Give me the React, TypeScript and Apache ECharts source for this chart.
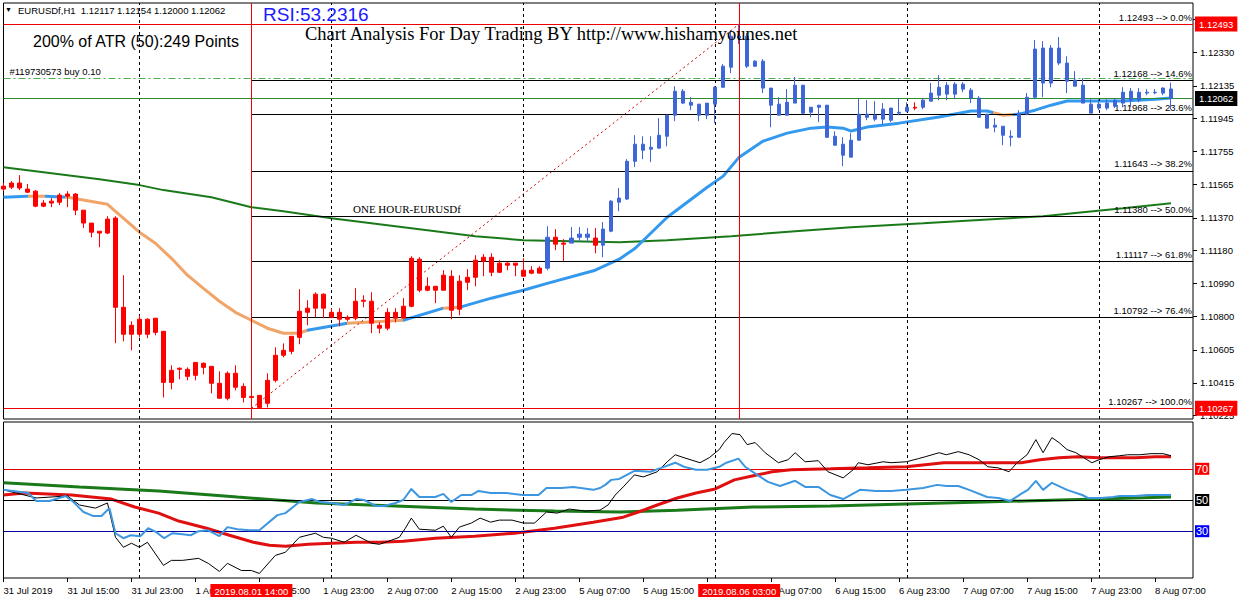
import React, { useEffect, useRef } from 'react';
import * as echarts from 'echarts';

// ---------- DATA ----------
// H1 candles, bar 0 = 31 Jul 2019 07:00 ; [open, high, low, close]
const candles: number[][] = [
  [1.11554, 1.11572, 1.11525, 1.11537], [1.11548, 1.11583, 1.11537, 1.11572], [1.11572, 1.11618, 1.11531, 1.11543],
  [1.11537, 1.11566, 1.11514, 1.11519], [1.11525, 1.11531, 1.11432, 1.11438], [1.11438, 1.11473, 1.11432, 1.11456],
  [1.11456, 1.11485, 1.11432, 1.11467], [1.11461, 1.11514, 1.11444, 1.11502], [1.11496, 1.11525, 1.11432, 1.11508],
  [1.11508, 1.11514, 1.11386, 1.11415], [1.11415, 1.11415, 1.11311, 1.11340], [1.11340, 1.11340, 1.11258, 1.11287],
  [1.11293, 1.11293, 1.11200, 1.11282], [1.11282, 1.11380, 1.11276, 1.11363], [1.11369, 1.11380, 1.10644, 1.10852],
  [1.10852, 1.11038, 1.10655, 1.10696], [1.10696, 1.10771, 1.10603, 1.10748], [1.10696, 1.10806, 1.10678, 1.10783],
  [1.10783, 1.10789, 1.10673, 1.10696], [1.10789, 1.10789, 1.10690, 1.10707], [1.10713, 1.10713, 1.10330, 1.10417],
  [1.10417, 1.10516, 1.10377, 1.10487], [1.10499, 1.10504, 1.10435, 1.10493], [1.10493, 1.10504, 1.10429, 1.10452],
  [1.10458, 1.10533, 1.10429, 1.10533], [1.10528, 1.10533, 1.10464, 1.10504], [1.10510, 1.10510, 1.10354, 1.10412],
  [1.10412, 1.10481, 1.10325, 1.10325], [1.10325, 1.10481, 1.10313, 1.10470], [1.10470, 1.10516, 1.10371, 1.10389],
  [1.10394, 1.10412, 1.10301, 1.10330], [1.10336, 1.10348, 1.10267, 1.10330], [1.10272, 1.10342, 1.10267, 1.10342],
  [1.10296, 1.10470, 1.10272, 1.10429], [1.10429, 1.10620, 1.10417, 1.10574], [1.10574, 1.10643, 1.10562, 1.10603],
  [1.10597, 1.10684, 1.10580, 1.10684], [1.10678, 1.10957, 1.10638, 1.10829], [1.10823, 1.10893, 1.10748, 1.10847],
  [1.10847, 1.10939, 1.10794, 1.10928], [1.10928, 1.10933, 1.10789, 1.10847], [1.10823, 1.10847, 1.10789, 1.10794],
  [1.10823, 1.10847, 1.10742, 1.10783], [1.10794, 1.10806, 1.10771, 1.10783], [1.10789, 1.10963, 1.10777, 1.10887],
  [1.10893, 1.10922, 1.10852, 1.10887], [1.10887, 1.10939, 1.10702, 1.10760], [1.10748, 1.10765, 1.10702, 1.10731],
  [1.10731, 1.10847, 1.10719, 1.10823], [1.10823, 1.10847, 1.10765, 1.10789], [1.10789, 1.10905, 1.10789, 1.10858],
  [1.10858, 1.11148, 1.10852, 1.11136], [1.11131, 1.11142, 1.10939, 1.10951], [1.10974, 1.11026, 1.10945, 1.10951],
  [1.10974, 1.10974, 1.10876, 1.10951], [1.10951, 1.11067, 1.10951, 1.11038], [1.11032, 1.11067, 1.10783, 1.10835],
  [1.10841, 1.11038, 1.10806, 1.11003], [1.10997, 1.11073, 1.10951, 1.11026], [1.11026, 1.11154, 1.10974, 1.11125],
  [1.11142, 1.11160, 1.11032, 1.11119], [1.11142, 1.11165, 1.11032, 1.11055], [1.11055, 1.11125, 1.11050, 1.11108],
  [1.11108, 1.11113, 1.11067, 1.11096], [1.11108, 1.11108, 1.11032, 1.11096], [1.11067, 1.11136, 1.11032, 1.11032],
  [1.11050, 1.11090, 1.11044, 1.11067], [1.11050, 1.11090, 1.11050, 1.11079], [1.11079, 1.11322, 1.11067, 1.11258],
  [1.11258, 1.11305, 1.11183, 1.11218], [1.11224, 1.11247, 1.11119, 1.11218], [1.11224, 1.11317, 1.11224, 1.11253],
  [1.11258, 1.11317, 1.11230, 1.11276], [1.11276, 1.11311, 1.11230, 1.11258], [1.11253, 1.11311, 1.11165, 1.11212],
  [1.11212, 1.11346, 1.11142, 1.11305], [1.11293, 1.11473, 1.11287, 1.11467], [1.11461, 1.11543, 1.11409, 1.11485],
  [1.11479, 1.11710, 1.11473, 1.11698], [1.11698, 1.11849, 1.11664, 1.11797], [1.11797, 1.11843, 1.11710, 1.11762],
  [1.11779, 1.11843, 1.11693, 1.11768], [1.11774, 1.11948, 1.11774, 1.11849], [1.11843, 1.11965, 1.11785, 1.11965],
  [1.11965, 1.12133, 1.11930, 1.12104], [1.12104, 1.12116, 1.12029, 1.12035], [1.12040, 1.12069, 1.11994, 1.12023],
  [1.12029, 1.12029, 1.11930, 1.11965], [1.11965, 1.12035, 1.11942, 1.12035], [1.12029, 1.12133, 1.11919, 1.12127],
  [1.12127, 1.12261, 1.12122, 1.12249], [1.12243, 1.12458, 1.12209, 1.12423], [1.12423, 1.12493, 1.12377, 1.12412],
  [1.12423, 1.12441, 1.12238, 1.12249], [1.12249, 1.12284, 1.12244, 1.12278], [1.12278, 1.12290, 1.12093, 1.12122],
  [1.12122, 1.12122, 1.11895, 1.12023], [1.12029, 1.12069, 1.11965, 1.11965], [1.11965, 1.12116, 1.11965, 1.12040],
  [1.12035, 1.12186, 1.12035, 1.12139], [1.12139, 1.12139, 1.11971, 1.11977], [1.12011, 1.12011, 1.11953, 1.11982],
  [1.12011, 1.12023, 1.11925, 1.12023], [1.12023, 1.12023, 1.11837, 1.11837], [1.11843, 1.11872, 1.11791, 1.11791],
  [1.11797, 1.11837, 1.11670, 1.11733], [1.11722, 1.11861, 1.11722, 1.11820], [1.11820, 1.12064, 1.11820, 1.11971],
  [1.11971, 1.12052, 1.11936, 1.11953], [1.11965, 1.12046, 1.11930, 1.11942], [1.11942, 1.12035, 1.11907, 1.12000],
  [1.11936, 1.12006, 1.11925, 1.12006], [1.11982, 1.12064, 1.11965, 1.11977], [1.11988, 1.12040, 1.11982, 1.12011],
  [1.12011, 1.12040, 1.11994, 1.12006], [1.12011, 1.12064, 1.12000, 1.12052], [1.12046, 1.12151, 1.12046, 1.12093],
  [1.12081, 1.12197, 1.12052, 1.12127], [1.12139, 1.12157, 1.12052, 1.12087], [1.12087, 1.12157, 1.12058, 1.12145],
  [1.12145, 1.12157, 1.12098, 1.12116], [1.12110, 1.12122, 1.12035, 1.12064], [1.12064, 1.12075, 1.11953, 1.11953],
  [1.11971, 1.11971, 1.11890, 1.11890], [1.11907, 1.11948, 1.11866, 1.11896], [1.11901, 1.11901, 1.11791, 1.11849],
  [1.11843, 1.11878, 1.11785, 1.11837], [1.11837, 1.11994, 1.11837, 1.11977], [1.11971, 1.12093, 1.11965, 1.12069],
  [1.12069, 1.12400, 1.12058, 1.12348], [1.12354, 1.12394, 1.12069, 1.12151], [1.12151, 1.12371, 1.12127, 1.12354],
  [1.12354, 1.12418, 1.12255, 1.12267], [1.12267, 1.12307, 1.12093, 1.12162], [1.12168, 1.12220, 1.12133, 1.12133],
  [1.12139, 1.12180, 1.12035, 1.12035], [1.12029, 1.12058, 1.11977, 1.11977], [1.12006, 1.12058, 1.11994, 1.12029],
  [1.12006, 1.12058, 1.11994, 1.12035], [1.12017, 1.12064, 1.12006, 1.12052], [1.12035, 1.12127, 1.12011, 1.12098],
  [1.12052, 1.12122, 1.12011, 1.12104], [1.12052, 1.12122, 1.12040, 1.12098], [1.12098, 1.12116, 1.12081, 1.12093],
  [1.12098, 1.12116, 1.12087, 1.12095], [1.12093, 1.12127, 1.12081, 1.12122], [1.12117, 1.12154, 1.12000, 1.12062],
];

// candle colour runs: r = red, b = blue
const candleColorRuns: Array<[string, number]> = [
  ['r', 68], ['b', 1], ['r', 2], ['b', 3], ['r', 1], ['b', 39], ['r', 1], ['b', 32],
];

// fast MA [bar, price] and colour segments (start bar)
const maFast: number[][] = [
  [0, 1.1149], [3, 1.11496], [5.25, 1.11496], [8, 1.1149], [13, 1.11449], [17, 1.11287], [19, 1.11223],
  [21, 1.11136], [23, 1.11038], [25, 1.10962], [27, 1.10887], [29, 1.10823], [31, 1.10777], [33, 1.10731],
  [35, 1.10702], [37, 1.10702], [38, 1.10719], [43, 1.1076], [50, 1.10777], [55, 1.10847], [57, 1.10852],
  [61, 1.10905], [65, 1.10951], [68, 1.10991], [74, 1.11067], [77, 1.11131], [79, 1.11194], [83, 1.11374],
  [88, 1.11548], [90, 1.11612], [92, 1.11722], [95, 1.11815], [98, 1.11861], [101, 1.1189], [103, 1.11896],
  [105, 1.1189], [106, 1.11873], [108, 1.11896], [112, 1.11919], [117, 1.11954], [121, 1.11989], [123, 1.11989],
  [125, 1.11965], [127, 1.11971], [129, 1.11994], [131, 1.12023], [133, 1.12047], [136, 1.12047], [140, 1.12047],
  [144, 1.12058], [146, 1.12064],
];
const maFastColorStarts: Array<[number, string]> = [
  [0, 'b'], [3, 'o'], [5.25, 'b'], [7.75, 'o'], [38, 'b'], [43, 'o'], [50, 'b'], [55, 'o'], [57, 'b'],
  [123.75, 'o'], [126.25, 'b'],
];

// slow MA [bar, price]
const maSlow: number[][] = [
  [0, 1.11664], [12, 1.11594], [17, 1.1156], [20, 1.11531], [26, 1.1149], [31, 1.11432], [35, 1.11409],
  [41, 1.11368], [51, 1.1131], [59, 1.11264], [65, 1.11241], [77, 1.11229], [83, 1.11241], [91, 1.11264],
  [99, 1.11293], [106, 1.11316], [115, 1.11339], [130, 1.1138], [140, 1.11426], [146, 1.11455],
];

// Fibonacci retracement
const fibStartBar = 31;
const fibEndBar = 92;
const fibPrices = [1.12493, 1.12168, 1.11968, 1.11643, 1.1138, 1.11117, 1.10792, 1.10267];
const fibPercents = ['0.0%', '14.6%', '23.6%', '38.2%', '50.0%', '61.8%', '76.4%', '100.0%'];
const redLevelPrices = [1.12493, 1.10267];
const redLevelBars = [31, 92];
const redLevelDates = ['2019.08.01 14:00', '2019.08.06 03:00'];
const bidPrice = 1.12062;
const orderPrice = 1.1218;
const orderLabel = '#119730573 buy 0.10';

// axes
const priceTicks = [1.1252, 1.1233, 1.12135, 1.11945, 1.11755, 1.11565, 1.1137, 1.1118, 1.1099, 1.108, 1.10605, 1.10415, 1.10225];
const xLabelBars = [0, 8, 16, 24, 32, 40, 48, 56, 64, 72, 80, 88, 96, 104, 112, 120, 128, 136, 144];
const xLabels = [
  '31 Jul 2019', '31 Jul 15:00', '31 Jul 23:00', '1 Aug 07:00', '1 Aug 15:00', '1 Aug 23:00', '2 Aug 07:00',
  '2 Aug 15:00', '2 Aug 23:00', '5 Aug 07:00', '5 Aug 15:00', '5 Aug 23:00', '6 Aug 07:00', '6 Aug 15:00',
  '6 Aug 23:00', '7 Aug 07:00', '7 Aug 15:00', '7 Aug 23:00', '8 Aug 07:00',
];
const gridBars = [17, 41, 65, 89, 113, 137];

// RSI panel [bar, value]
const rsiCurrent = 53.2316;
const rsiLevels = [70, 50, 30];
const rsi: number[][] = [
  [0, 56.5], [3.1, 54.5], [4.1, 49.4], [5.75, 49.4], [7.75, 52.6], [8.75, 48.7], [10, 42.3], [11.25, 39.7],
  [12.25, 39.7], [13.25, 44.8], [14, 28.7], [15, 25.5], [15.9, 27.4], [17.1, 26.8], [18.1, 31.9], [19.1, 29.4],
  [20.1, 25.5], [21.1, 28.7], [22.4, 28.1], [23.4, 27.4], [24.4, 30], [25.6, 30.6], [27, 26.8], [28, 32.6],
  [29.25, 31.3], [30.75, 30.6], [32, 30.6], [34.25, 40.3], [35.25, 41.6], [37, 48.7], [38.6, 50.6], [39.6, 48.7],
  [41, 48.1], [42.6, 46.8], [44.1, 50.6], [45.1, 50], [46.6, 46.1], [47.6, 46.1], [49, 48.1], [50, 50], [51, 57.1],
  [52, 51.9], [54, 51.9], [55, 53.9], [56, 48.7], [57.25, 53.2], [58.5, 53.2], [59.4, 55.8], [60.9, 54.5],
  [62.9, 54.5], [64.9, 53.2], [66.9, 53.2], [67.9, 57.7], [69.75, 57.7], [71.25, 58.4], [73.75, 56.5], [74.6, 57.7],
  [75.25, 59.7], [76, 62.9], [77, 63.5], [78.9, 68.7], [80.9, 68.1], [82.25, 70.6], [84, 73.9], [85.1, 71.3],
  [86.6, 69.4], [88, 69.4], [89.5, 71.3], [90.4, 73.9], [91.9, 76.5], [92.75, 71.3], [94.25, 66.1], [95.6, 61.6],
  [97.1, 59], [99, 62.3], [100.25, 58.4], [101.9, 58.4], [103.4, 53.2], [105, 50.6], [107.1, 56.5], [109.1, 55.8],
  [111, 55.8], [112.9, 56.5], [115, 57.7], [116.75, 59.7], [117.9, 59], [119.4, 59], [120.75, 56.5], [123, 51.9],
  [124.4, 51.3], [125.9, 49.4], [127.25, 53.9], [128.1, 56.5], [129.1, 62.3], [130, 56.5], [131.1, 61], [133, 56.5],
  [134.9, 53.2], [135.6, 51.3], [137.25, 51.3], [138.75, 51.9], [139.6, 52.6], [141.6, 52.6], [143, 53.2],
  [145, 53.2], [146, 53.2],
];
const rsiFast: number[][] = [
  [0, 56.5], [4.1, 51.3], [8, 52.6], [9.5, 46.8], [11.5, 44.8], [13, 48.1], [14, 26.1], [15, 19.7], [16, 22.3],
  [17, 19.7], [18, 22.9], [20, 8.1], [21, 11.3], [22.4, 11.3], [24.4, 12.6], [25.6, 9.4], [27, 4.2], [28, 9.4],
  [29.75, 4.8], [31, 4.8], [32, 2.9], [34, 14.5], [35.25, 16.5], [37, 26.1], [39, 28.7], [40, 26.1], [41, 25.5],
  [42.6, 22.9], [44.1, 27.4], [46, 22.3], [47, 21.6], [48.5, 24.2], [49.5, 26.1], [50.25, 31.9], [51, 38.4],
  [52, 31.3], [54, 30.6], [55, 33.2], [56, 26.1], [57, 32.6], [58.5, 35.2], [59.6, 38.4], [60.9, 35.8], [62, 37.1],
  [63.6, 37.1], [65, 35.2], [66.4, 35.2], [67.9, 42.3], [69.25, 41.6], [70.75, 44.2], [72.75, 42.9], [74.6, 43.5],
  [75.6, 46.8], [76.5, 53.2], [77.5, 58.4], [78.9, 66.1], [80, 64.8], [81.75, 68.1], [83, 74.5], [84, 79],
  [85.1, 77.1], [87.1, 73.9], [88.25, 77.1], [89.5, 82.3], [90.1, 86.8], [91.1, 92.6], [92.1, 91.9], [93, 85.5],
  [94, 86.8], [95.25, 80.3], [96.9, 73.9], [98.1, 75.8], [99, 80.3], [100.25, 74.5], [101.9, 75.2], [103.1, 68.1],
  [105, 64.2], [106.25, 69.4], [106.9, 73.9], [108.1, 72.6], [110, 74.5], [111, 73.9], [112.9, 74.5],
  [114.4, 76.5], [115.25, 77.7], [117, 80.3], [117.9, 79], [119.4, 81], [120.75, 79], [122, 75.8], [123.1, 71.3],
  [124.4, 70.6], [125.75, 68.1], [126.75, 73.9], [128, 79], [129.1, 88.7], [130, 80.3], [131.1, 90], [132, 86.8],
  [133, 82.3], [134.1, 80.3], [135.1, 77.1], [136.1, 73.9], [137, 75.8], [138.25, 77.7], [139.6, 78.4],
  [140.6, 79], [142.1, 79], [143.5, 79.7], [145, 79.7], [146, 78.4],
];
const rsiSignal: number[][] = [
  [0, 53.2], [2.6, 54.5], [8.5, 53.2], [11, 51.9], [13.5, 50.6], [16.4, 45.5], [19.4, 41.6], [21.9, 36.5],
  [25.4, 31.9], [28.25, 27.4], [31.25, 22.9], [33.25, 21], [35.25, 20.3], [38.1, 21.6], [41.1, 22.3], [44.1, 22.9],
  [47.1, 22.9], [50, 23.5], [54, 25.5], [58.9, 26.8], [63.9, 28.7], [68.9, 31.9], [73.75, 35.8], [77.5, 39],
  [79.4, 42.3], [81.75, 46.8], [84.25, 51.3], [86.6, 54.5], [89, 57.1], [91.4, 62.9], [93.75, 65.5], [96.1, 68.1],
  [98.5, 69.4], [103.4, 70], [108.1, 70.6], [112.9, 71.3], [117.6, 73.9], [122.5, 73.9], [127.25, 73.9],
  [129.6, 75.8], [132, 77.1], [134.4, 77.7], [136.9, 77.1], [139.25, 77.1], [141.6, 77.1], [144, 77.7], [146, 77.7],
];
const rsiSlow: number[][] = [
  [0, 61], [9.5, 58.4], [19.4, 55.8], [29.25, 51.9], [39.1, 48.1], [49, 46.1], [58.9, 44.2], [68.9, 42.9],
  [77.1, 42.3], [84.25, 43.5], [93.75, 45.5], [103.4, 46.1], [112.9, 47.4], [122.5, 48.7], [132, 50],
  [136.9, 50.6], [146, 51.9],
];

// ---------- STYLE ----------
const FONT = "'Liberation Sans Narrow', 'Liberation Sans', Arial, sans-serif";
const SMALL = 9.5;
const X_MAX = 148.75;
const RED = '#ff0000';
const BLUE_CANDLE = '#3f66d9';
const MA_BLUE = '#3399ee';
const MA_ORANGE = '#f0a468';
const DARK_GREEN = '#1a7a1a';

function buildOption(): any {
  const colorCodes = candleColorRuns.flatMap(([c, n]) => Array(n).fill(c));
  const candleData = candles.map(([o, h, l, c], i) => {
    const col = colorCodes[i] === 'r' ? RED : BLUE_CANDLE;
    return {
      value: [i, o, c, l, h],
      itemStyle: { color: col, color0: col, borderColor: col, borderColor0: col, borderColorDoji: col, borderWidth: 1 },
    };
  });

  const pieces = maFastColorStarts.map(([s, c], k) => {
    const next = maFastColorStarts[k + 1];
    const p: any = { gte: k === 0 ? -10 : s, color: c === 'b' ? MA_BLUE : MA_ORANGE };
    if (next) p.lt = next[0];
    else p.lte = 1000;
    return p;
  });

  const baseLabel = { fontFamily: FONT, fontSize: SMALL, color: '#000' };
  const dashed = { type: [3, 3], color: '#000', width: 1 };

  const mainMarks: any[] = [
    ...gridBars.map((b) => ({ xAxis: b, lineStyle: dashed, label: { show: false } })),
    ...fibPrices.map((p, k) => [
      {
        coord: [fibStartBar, p],
        lineStyle: { color: '#000', width: 1, type: 'solid' },
        label: {
          show: true, position: 'insideEndTop', distance: [1, 2],
          formatter: `${p.toFixed(5)} --> ${fibPercents[k]}`, ...baseLabel,
        },
      },
      { coord: [X_MAX, p] },
    ]),
    {
      yAxis: orderPrice,
      lineStyle: { color: '#4cae4c', type: [7, 3, 2, 3], width: 1 },
      label: { show: true, position: 'insideStartTop', distance: [6, 2], formatter: orderLabel, ...baseLabel },
    },
    {
      yAxis: bidPrice,
      lineStyle: { color: '#2e8b2e', type: 'solid', width: 1 },
      label: {
        show: true, position: 'end', distance: 2, formatter: bidPrice.toFixed(5),
        ...baseLabel, color: '#fff', backgroundColor: '#000', padding: [3, 4, 2, 4],
      },
    },
    ...redLevelPrices.map((p) => ({
      yAxis: p,
      lineStyle: { color: '#ee0000', type: 'solid', width: 1 },
      label: {
        show: true, position: 'end', distance: 2, formatter: p.toFixed(5),
        ...baseLabel, color: '#fff', backgroundColor: RED, padding: [3, 4, 2, 4],
      },
    })),
    ...redLevelBars.map((b) => ({ xAxis: b, lineStyle: { color: '#ee0000', type: 'solid', width: 1 }, label: { show: false } })),
  ];

  const levelColors: Record<number, string> = { 70: '#e00000', 50: '#000000', 30: '#0000a0' };
  const levelBg: Record<number, string> = { 70: '#ff0000', 50: '#000000', 30: '#0000ff' };
  const rsiMarks: any[] = [
    ...gridBars.map((b) => ({ xAxis: b, lineStyle: dashed, label: { show: false } })),
    ...rsiLevels.map((v) => ({
      yAxis: v,
      lineStyle: { color: levelColors[v], type: 'solid', width: 1 },
      label: {
        show: true, position: 'end', distance: 2, formatter: String(v),
        ...baseLabel, fontSize: 11, color: '#fff', backgroundColor: levelBg[v], padding: [1, 1, 0, 1],
      },
    })),
    ...redLevelBars.map((b, k) => ({
      xAxis: b,
      lineStyle: { color: 'rgba(0,0,0,0)', width: 1, opacity: 1 },
      label: {
        show: true, position: 'start', distance: 6, formatter: redLevelDates[k], opacity: 1,
        ...baseLabel, color: '#fff', backgroundColor: RED, padding: [2, 4, 1, 4],
      },
    })),
  ];

  const mk = (data: any[]) => ({
    silent: true, symbol: ['none', 'none'], animation: false, precision: 5, emphasis: { disabled: true }, data,
  });

  const last = candles[candles.length - 1];
  const header = `EURUSDf,H1  ${last.map((v) => v.toFixed(5)).join(' ')}`;

  return {
    animation: false,
    backgroundColor: '#ffffff',
    grid: [
      { left: 3.5, top: 3, width: 1189.5, height: 416, show: true, borderColor: '#000', borderWidth: 1, backgroundColor: '#fff' },
      { left: 3.5, top: 422, width: 1189.5, height: 156, show: true, borderColor: '#000', borderWidth: 1, backgroundColor: '#fff' },
    ],
    xAxis: [
      { type: 'value', gridIndex: 0, min: 0, max: X_MAX, show: false, splitLine: { show: false } },
      {
        type: 'value', gridIndex: 1, min: 0, max: X_MAX,
        axisLine: { show: false, onZero: false },
        splitLine: { show: false },
        axisTick: { show: true, customValues: xLabelBars, length: 4, lineStyle: { color: '#000' } },
        axisLabel: {
          customValues: xLabelBars, align: 'left', margin: 7, ...baseLabel,
          formatter: (v: number) => { const k = xLabelBars.indexOf(Math.round(v)); return k >= 0 ? xLabels[k] : ''; },
        },
      },
    ],
    yAxis: [
      {
        type: 'value', gridIndex: 0, position: 'right', min: 1.10205, max: 1.12615, scale: true,
        axisLine: { show: false, onZero: false },
        splitLine: { show: false },
        axisTick: { show: true, customValues: priceTicks, length: 4, lineStyle: { color: '#000' } },
        axisLabel: { customValues: priceTicks, margin: 7, ...baseLabel, formatter: (v: number) => v.toFixed(5) },
      },
      {
        type: 'value', gridIndex: 1, position: 'right', min: 0, max: 100,
        axisLine: { show: false, onZero: false }, axisTick: { show: false }, axisLabel: { show: false }, splitLine: { show: false },
      },
    ],
    visualMap: [
      { type: 'piecewise', show: false, seriesIndex: 1, dimension: 0, pieces },
    ],
    series: [
      {
        name: 'MA slow', type: 'line', xAxisIndex: 0, yAxisIndex: 0, data: maSlow, showSymbol: false, symbol: 'none',
        lineStyle: { color: DARK_GREEN, width: 2 }, z: 3, silent: true,
      },
      {
        name: 'MA fast', type: 'line', xAxisIndex: 0, yAxisIndex: 0, data: maFast, showSymbol: false, symbol: 'none',
        lineStyle: { width: 3 }, z: 3, silent: true,
      },
      {
        name: 'Fibo', type: 'line', xAxisIndex: 0, yAxisIndex: 0,
        data: [[fibStartBar, fibPrices[fibPrices.length - 1]], [fibEndBar, fibPrices[0]]],
        showSymbol: false, symbol: 'none', lineStyle: { color: '#cc0000', width: 1, type: [2, 3] }, z: 4, silent: true,
        markLine: mk(mainMarks),
      },
      {
        name: 'EURUSDf', type: 'candlestick', xAxisIndex: 0, yAxisIndex: 0, data: candleData, barWidth: 4, z: 5,
        silent: true, clip: true,
      },
      {
        name: 'RSI slow', type: 'line', xAxisIndex: 1, yAxisIndex: 1, data: rsiSlow, showSymbol: false, symbol: 'none',
        lineStyle: { color: DARK_GREEN, width: 3 }, z: 3, silent: true,
      },
      {
        name: 'RSI signal', type: 'line', xAxisIndex: 1, yAxisIndex: 1, data: rsiSignal, showSymbol: false, symbol: 'none',
        lineStyle: { color: '#e01010', width: 3 }, z: 4, silent: true,
      },
      {
        name: 'RSI fast', type: 'line', xAxisIndex: 1, yAxisIndex: 1, data: rsiFast, showSymbol: false, symbol: 'none',
        lineStyle: { color: '#000', width: 1 }, z: 5, silent: true,
      },
      {
        name: 'RSI', type: 'line', xAxisIndex: 1, yAxisIndex: 1, data: rsi, showSymbol: false, symbol: 'none',
        lineStyle: { color: '#3d97e0', width: 2 }, z: 6, silent: true,
        markLine: mk(rsiMarks),
      },
    ],
    graphic: [
      { type: 'text', left: 5, top: 6, z: 100, style: { text: '▼', fontSize: 7, fill: '#000', fontFamily: FONT } },
      { type: 'text', left: 18, top: 5, z: 100, style: { text: header, fontSize: SMALL, fill: '#000', fontFamily: FONT } },
      { type: 'text', left: 263, top: 5, z: 100, style: { text: `RSI:${rsiCurrent}`, fontSize: 19, fill: '#1a1aff', fontFamily: "'Liberation Sans', Arial, sans-serif" } },
      { type: 'text', left: 33, top: 33, z: 100, style: { text: '200% of ATR (50):249 Points', fontSize: 16, fill: '#000', fontFamily: "'Liberation Sans', Arial, sans-serif" } },
      { type: 'text', left: 305, top: 24, z: 100, style: { text: 'Chart Analysis For Day Trading BY http://www.hishamyounes.net', fontSize: 18.5, fill: '#000', fontFamily: "'Liberation Serif', 'Times New Roman', serif" } },
      { type: 'text', left: 353, top: 203, z: 100, style: { text: 'ONE HOUR-EURUSDf', fontSize: 11, fill: '#000', fontFamily: "'Liberation Serif', 'Times New Roman', serif" } },
    ],
  };
}

export default function App() {
  const ref = useRef<HTMLDivElement>(null);
  useEffect(() => {
    document.body.style.margin = '0';
    const chart = echarts.init(ref.current as HTMLDivElement, undefined, { renderer: 'svg' });
    chart.setOption(buildOption());
    return () => chart.dispose();
  }, []);
  return <div ref={ref} style={{ width: 1240, height: 600, background: '#fff' }} />;
}
